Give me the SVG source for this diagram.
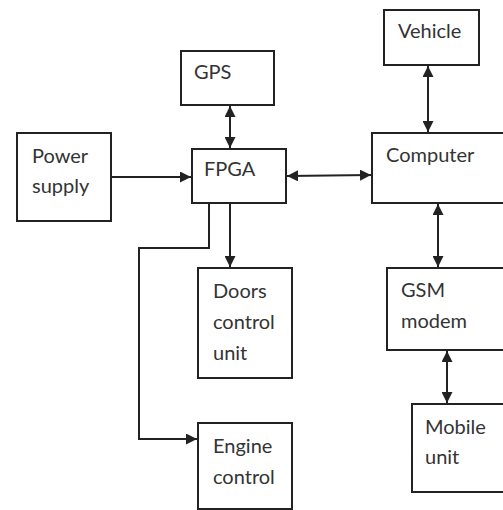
<svg xmlns="http://www.w3.org/2000/svg" width="503" height="510" viewBox="0 0 503 510">
  <style>
    .box { fill: #ffffff; stroke: #222222; stroke-width: 2; }
    .wire { fill: none; stroke: #222222; stroke-width: 2; }
    .lbl { font-family: Lato, "Open Sans", "Liberation Sans", sans-serif; font-size: 20px; fill: #333333; }
  </style>
  <defs>
    <marker id="head" viewBox="0 0 10 10" refX="10" refY="5" markerWidth="5.5" markerHeight="5.5" orient="auto-start-reverse" markerUnits="strokeWidth">
      <path d="M0,0 L10,5 L0,10 Z" fill="#222222"/>
    </marker>
  </defs>
  <rect width="503" height="510" fill="#ffffff"/>

  <g id="connectors">
    <line class="wire" x1="111" y1="177" x2="191" y2="177" marker-end="url(#head)"/>
    <line class="wire" x1="230" y1="106" x2="230" y2="148" marker-start="url(#head)" marker-end="url(#head)"/>
    <line class="wire" x1="287" y1="176" x2="371" y2="175" marker-start="url(#head)" marker-end="url(#head)"/>
    <line class="wire" x1="230" y1="203" x2="230" y2="267" marker-end="url(#head)"/>
    <polyline class="wire" points="209,203 209,248 139,248 139,439 197,439" marker-end="url(#head)"/>
    <line class="wire" x1="428" y1="66" x2="428" y2="132" marker-start="url(#head)" marker-end="url(#head)"/>
    <line class="wire" x1="438" y1="204" x2="438" y2="267" marker-start="url(#head)" marker-end="url(#head)"/>
    <line class="wire" x1="447" y1="351" x2="447" y2="403" marker-start="url(#head)" marker-end="url(#head)"/>
  </g>

  <g id="power">
    <rect class="box" x="17" y="133" width="94" height="88"/>
    <text class="lbl" x="32" y="163">Power</text>
    <text class="lbl" x="32" y="193">supply</text>
  </g>
  <g id="gps">
    <rect class="box" x="181" y="51" width="93" height="54"/>
    <text class="lbl" x="194" y="79">GPS</text>
  </g>
  <g id="fpga">
    <rect class="box" x="192" y="149" width="94" height="54"/>
    <text class="lbl" x="204" y="176">FPGA</text>
  </g>
  <g id="doors">
    <rect class="box" x="198" y="268" width="94" height="110"/>
    <text class="lbl" x="213" y="298">Doors</text>
    <text class="lbl" x="213" y="329">control</text>
    <text class="lbl" x="213" y="360">unit</text>
  </g>
  <g id="engine">
    <rect class="box" x="198" y="423" width="94" height="86"/>
    <text class="lbl" x="213" y="453">Engine</text>
    <text class="lbl" x="213" y="484">control</text>
  </g>
  <g id="vehicle">
    <rect class="box" x="384" y="10" width="95" height="55"/>
    <text class="lbl" x="398" y="38">Vehicle</text>
  </g>
  <g id="computer">
    <rect class="box" x="372" y="133" width="140" height="70"/>
    <text class="lbl" x="386" y="162">Computer</text>
  </g>
  <g id="gsm">
    <rect class="box" x="387" y="268" width="125" height="82"/>
    <text class="lbl" x="401" y="297">GSM</text>
    <text class="lbl" x="401" y="328">modem</text>
  </g>
  <g id="mobile">
    <rect class="box" x="412" y="404" width="100" height="88"/>
    <text class="lbl" x="425" y="434">Mobile</text>
    <text class="lbl" x="425" y="464">unit</text>
  </g>
</svg>
